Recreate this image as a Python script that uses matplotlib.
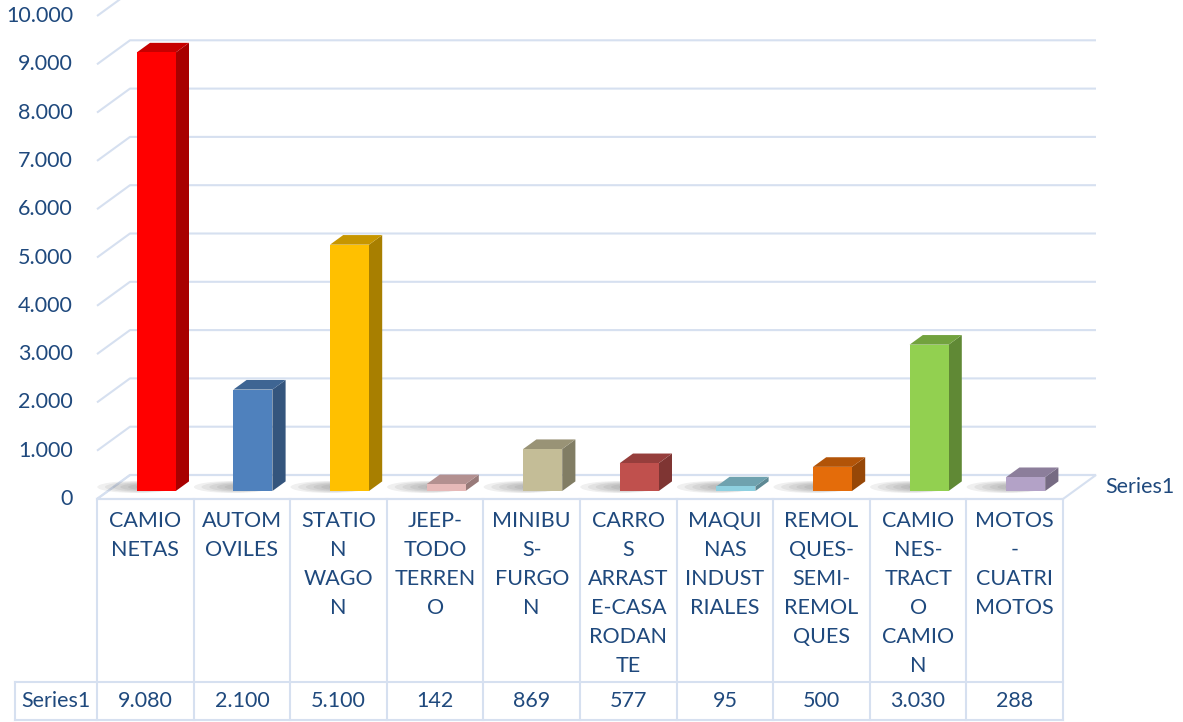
import matplotlib.pyplot as plt
from matplotlib.patches import Polygon, Ellipse
from matplotlib.colors import to_rgb

plt.rcParams['font.family'] = ['Lato', 'DejaVu Sans']

labels = ["CAMIO\nNETAS", "AUTOM\nOVILES", "STATIO\nN\nWAGO\nN",
          "JEEP-\nTODO\nTERREN\nO", "MINIBU\nS-\nFURGO\nN",
          "CARRO\nS\nARRAST\nE-CASA\nRODAN\nTE", "MAQUI\nNAS\nINDUST\nRIALES",
          "REMOL\nQUES-\nSEMI-\nREMOL\nQUES", "CAMIO\nNES-\nTRACT\nO\nCAMIO\nN",
          "MOTOS\n-\nCUATRI\nMOTOS"]
values = [9080, 2100, 5100, 142, 869, 577, 95, 500, 3030, 288]
colors = ["#FF0000", "#4F81BD", "#FFC000", "#E6B9B8", "#C4BD97",
          "#C0504D", "#8ED0E0", "#E46C0A", "#92D050", "#B3A2C7"]
series_name = "Series1"
yticks = list(range(0, 10001, 1000))

TEXT = "#1F497D"
GRID = "#D6E0F0"
W, H = 1183, 722

# pixel layout helpers
X0_PX = 97.0        # pixel of the left edge of the first category
XW_PX = 96.6        # pixels per category
Y0_PX = 499.0       # pixel row of value 0 on the front edge
PX_PER_UNIT = 0.0483


def px_x(p):
    return p / XW_PX


def px_y(p):
    return p / PX_PER_UNIT


def fmt(v):
    return f"{v:,}".replace(",", ".")


def shade(c, k):
    r, g, b = to_rgb(c)
    return (r * k, g * k, b * k)


fig = plt.figure(figsize=(W / 100, H / 100), dpi=100)
ax = fig.add_axes([0, 0, 1, 1])
ax.axis('off')
ax.set_xlim(-0.5 - px_x(X0_PX), -0.5 + px_x(W - X0_PX))
ax.set_ylim(-px_y(H - Y0_PX), px_y(Y0_PX))

n = len(values)
left, right = -0.5, n - 0.5
dX, dY = px_x(33), px_y(24)
front = 1 / 3.0
depth = 0.4
bw = px_x(39)

# floor
floor = Polygon([(left, 0), (right, 0), (right + dX, dY), (left + dX, dY)],
                closed=True, facecolor="white", edgecolor=GRID, lw=1.5, zorder=1)
ax.add_patch(floor)

# back wall gridlines with the diagonal on the side wall
for v in yticks:
    ax.plot([left, left + dX, right + dX], [v, v + dY, v + dY], color=GRID, lw=1.5,
            zorder=2, solid_capstyle='butt')
    ax.text(left - px_x(24), v, fmt(v), ha='right', va='center', fontsize=15.5, color=TEXT)

# soft shadows on the floor, mostly to the left of each bar
for i in range(n):
    cx = i + front * dX - px_x(20)
    cy = dY * 0.5
    for s in range(7):
        k = 1 - s * 0.12
        ax.add_patch(Ellipse((cx + px_x(6) * s * 0.5, cy), px_x(78) * k, px_y(12) * k,
                             facecolor="#404040", edgecolor='none', alpha=0.08, zorder=3))

# bars
for i, (v, c) in enumerate(zip(values, colors)):
    x1 = i - bw / 2 + front * dX
    x2 = i + bw / 2 + front * dX
    y1 = front * dY
    y2 = y1 + v
    ox, oy = depth * dX, depth * dY
    side = Polygon([(x2, y1), (x2 + ox, y1 + oy), (x2 + ox, y2 + oy), (x2, y2)],
                   closed=True, facecolor=shade(c, 0.66), edgecolor='none', zorder=4)
    top = Polygon([(x1, y2), (x2, y2), (x2 + ox, y2 + oy), (x1 + ox, y2 + oy)],
                  closed=True, facecolor=shade(c, 0.78), edgecolor='none', zorder=4)
    ax.add_patch(side)
    ax.add_patch(top)
    ax.fill([x1, x2, x2, x1], [y1, y1, y2, y2], color=c, lw=0, zorder=5)

ax.text(right + px_x(42), dY / 2, series_name, ha='left', va='center', fontsize=15.5, color=TEXT)

# data table
row1 = -px_y(183)
row2 = -px_y(221)
tleft = left - px_x(82)
ax.plot([left, right], [0, 0], color=GRID, lw=1.5, zorder=2)
ax.plot([tleft, right], [row1, row1], color=GRID, lw=1.5)
ax.plot([tleft, right], [row2, row2], color=GRID, lw=1.5)
ax.plot([tleft, tleft], [row1, row2], color=GRID, lw=1.5)
for k in range(n + 1):
    ax.plot([left + k, left + k], [0, row2], color=GRID, lw=1.5)

for i, (lab, v) in enumerate(zip(labels, values)):
    ax.text(i, -px_y(12), lab, ha='center', va='top', fontsize=15.5, color=TEXT,
            linespacing=1.56)
    ax.text(i, (row1 + row2) / 2, fmt(v), ha='center', va='center', fontsize=15.5, color=TEXT)
ax.text((tleft + left) / 2, (row1 + row2) / 2, series_name, ha='center', va='center',
        fontsize=15.5, color=TEXT)

fig.savefig("out.png", dpi=100)
